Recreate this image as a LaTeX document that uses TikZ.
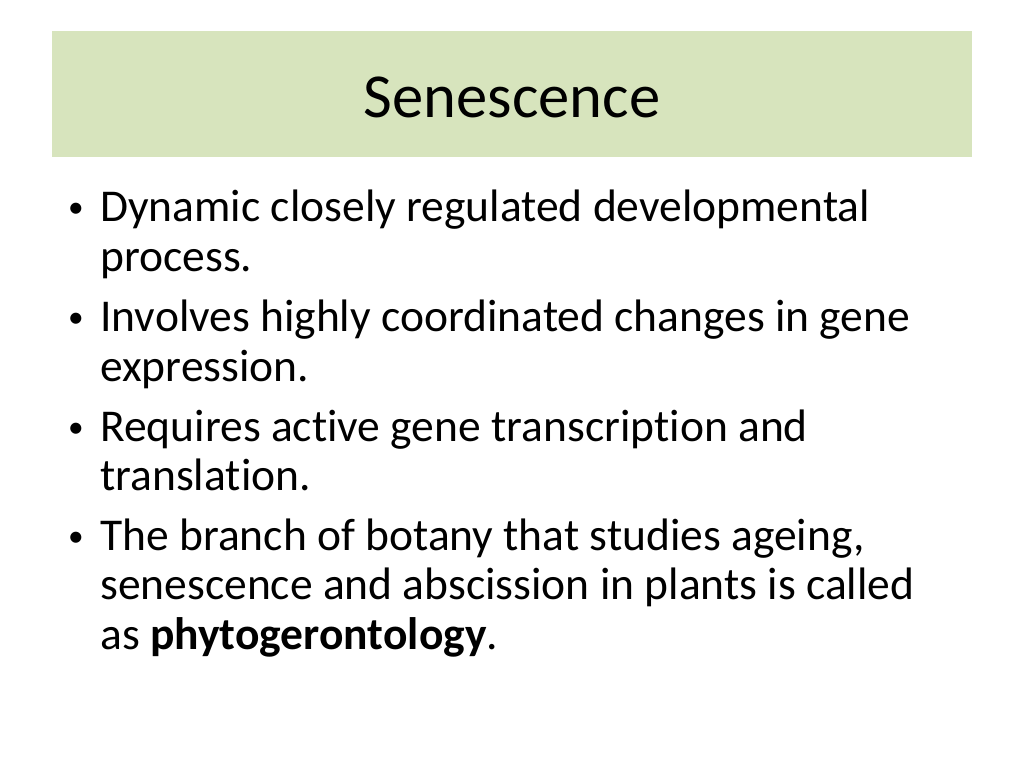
\documentclass[tikz,border=0pt]{standalone}
\usepackage{fontspec}
\setmainfont{Carlito}[RawFeature=-liga]
\definecolor{hdr}{RGB}{215,228,189}
\begin{document}
\begin{tikzpicture}[x=0.703125pt,y=-0.703125pt,
  body/.style={anchor=base west,inner sep=0pt,font=\fontsize{32}{38}\selectfont},
  bul/.style={anchor=base,inner sep=0pt,font=\fontsize{22}{26}\selectfont}]
\useasboundingbox (0,0) rectangle (1024,768);
\fill[hdr] (52,31) rectangle (972,157);
\node[anchor=base,inner sep=0pt,font=\fontsize{44}{52}\selectfont] (title) at (512,118) {Senescence};
\node[bul] (b1) at (76,218) {•};
\node[body] (l1) at (100,222) {Dynamic closely regulated developmental};
\node[body] (l2) at (100,272) {process.};
\node[bul] (b2) at (76,328) {•};
\node[body] (l3) at (100,332) {Involves highly coordinated changes in gene};
\node[body] (l4) at (100,381) {expression.};
\node[bul] (b3) at (76,437) {•};
\node[body] (l5) at (100,441) {Requires active gene transcription and};
\node[body] (l6) at (100,490) {translation.};
\node[bul] (b4) at (76,546) {•};
\node[body] (l7) at (100,550) {The branch of botany that studies ageing,};
\node[body] (l8) at (100,599) {senescence and abscission in plants is called};
\node[body] (l9) at (100,649) {as \textbf{phytogerontology}.};
\end{tikzpicture}
\end{document}
